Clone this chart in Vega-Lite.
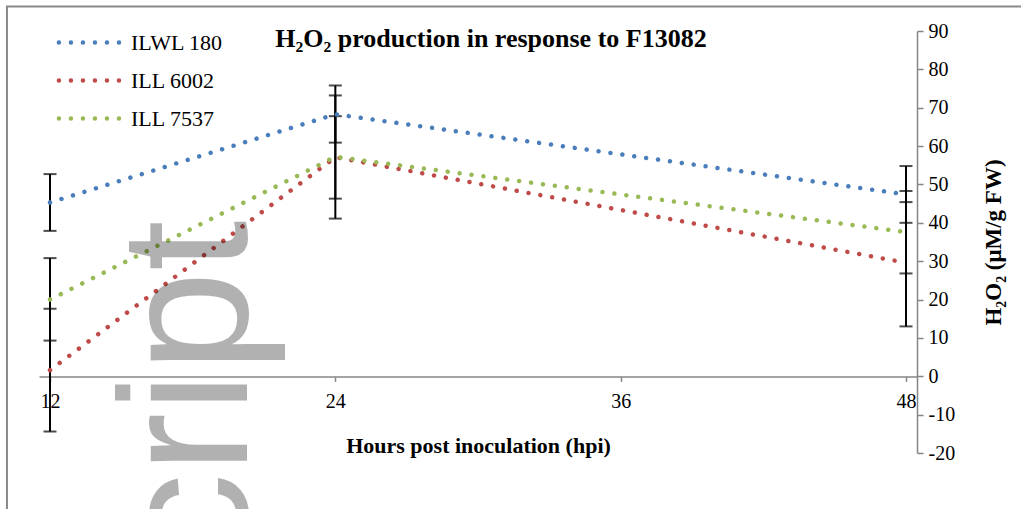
{
  "$schema": "https://vega.github.io/schema/vega-lite/v6.json",
  "width": 878,
  "height": 422,
  "autosize": {"type": "none"},
  "padding": {"left": 39, "top": 31, "right": 104, "bottom": 56},
  "background": "white",
  "config": {
    "view": {"stroke": null},
    "font": "Liberation Serif",
    "axisX": {
      "titleFont": "Liberation Serif", "titleFontSize": 22, "titleFontWeight": "bold", "titleColor": "black", "titlePadding": 24,
      "labelFont": "Liberation Serif", "labelFontSize": 20, "labelColor": "black", "labelPadding": 10, "labelFlush": false,
      "domainColor": "#868686", "domainWidth": 1.5, "tickColor": "#868686", "tickWidth": 1.5, "tickSize": 5, "grid": false
    },
    "axisY": {
      "titleFont": "Liberation Serif", "titleFontSize": 23, "titleFontWeight": "bold", "titleColor": "black", "titlePadding": 51,
      "labelFont": "Liberation Serif", "labelFontSize": 20, "labelColor": "black", "labelPadding": 5,
      "domainColor": "#868686", "domainWidth": 1.5, "tickColor": "#868686", "tickWidth": 1.5, "tickSize": 6, "grid": false
    }
  },
  "title": {
    "text": "H₂O₂ production in response to F13082",
    "font": "Liberation Serif",
    "fontSize": 26,
    "fontWeight": "bold",
    "color": "black",
    "anchor": "middle",
    "dx": 13,
    "offset": -68,
    "baseline": "alphabetic"
  },
  "data": {
    "values": [
      {"hpi": 12, "line": "ILWL 180", "value": 45.3, "lo": 37.9, "hi": 52.7},
      {"hpi": 24, "line": "ILWL 180", "value": 68.3, "lo": 60.9, "hi": 75.8},
      {"hpi": 48, "line": "ILWL 180", "value": 47.4, "lo": 40.0, "hi": 54.8},
      {"hpi": 12, "line": "ILL 6002", "value": 1.6, "lo": -14.4, "hi": 17.6},
      {"hpi": 24, "line": "ILL 6002", "value": 57.1, "lo": 41.1, "hi": 73.2},
      {"hpi": 48, "line": "ILL 6002", "value": 29.6, "lo": 13.0, "hi": 45.4},
      {"hpi": 12, "line": "ILL 7537", "value": 20.0, "lo": 9.3, "hi": 30.8},
      {"hpi": 24, "line": "ILL 7537", "value": 57.2, "lo": 46.3, "hi": 67.8},
      {"hpi": 48, "line": "ILL 7537", "value": 37.6, "lo": 26.8, "hi": 48.3}
    ]
  },
  "layer": [
    {
      "data": {"values": [{}]},
      "mark": {"type": "rect", "fillOpacity": 0, "stroke": "#8a8a8a", "strokeWidth": 2, "clip": false},
      "encoding": {
        "x": {"datum": 10.19, "type": "quantitative", "scale": {"domain": [11.537, 48.463], "nice": false, "zero": false},
          "axis": {"values": [12, 24, 36, 48], "title": "Hours post inoculation (hpi)", "offset": -76.6}},
        "x2": {"datum": 60},
        "y": {"datum": 96.4, "type": "quantitative", "scale": {"domain": [-20, 90], "nice": false, "zero": false},
          "axis": {"orient": "right", "values": [-20, -10, 0, 10, 20, 30, 40, 50, 60, 70, 80, 90], "labelExpr": "'' + datum.value", "title": "H₂O₂ (μM/g FW)", "titleAngle": 270}},
        "y2": {"datum": -60}
      }
    },
    {
      "mark": {"type": "rule", "color": "black", "strokeWidth": 2},
      "encoding": {
        "x": {"field": "hpi", "type": "quantitative", "scale": {"domain": [11.537, 48.463], "nice": false, "zero": false},
          "axis": {"values": [12, 24, 36, 48], "title": "Hours post inoculation (hpi)", "offset": -76.6}},
        "y": {"field": "lo", "type": "quantitative", "scale": {"domain": [-20, 90], "nice": false, "zero": false},
          "axis": {"orient": "right", "values": [-20, -10, 0, 10, 20, 30, 40, 50, 60, 70, 80, 90], "labelExpr": "'' + datum.value", "title": "H₂O₂ (μM/g FW)", "titleAngle": 270}},
        "y2": {"field": "hi"}
      }
    },
    {
      "mark": {"type": "tick", "color": "black", "orient": "horizontal", "size": 13, "thickness": 2},
      "encoding": {
        "x": {"field": "hpi", "type": "quantitative", "scale": {"domain": [11.537, 48.463], "nice": false, "zero": false},
          "axis": {"values": [12, 24, 36, 48], "title": "Hours post inoculation (hpi)", "offset": -76.6}},
        "y": {"field": "lo", "type": "quantitative", "scale": {"domain": [-20, 90], "nice": false, "zero": false},
          "axis": {"orient": "right", "values": [-20, -10, 0, 10, 20, 30, 40, 50, 60, 70, 80, 90], "labelExpr": "'' + datum.value", "title": "H₂O₂ (μM/g FW)", "titleAngle": 270}}
      }
    },
    {
      "mark": {"type": "tick", "color": "black", "orient": "horizontal", "size": 13, "thickness": 2},
      "encoding": {
        "x": {"field": "hpi", "type": "quantitative", "scale": {"domain": [11.537, 48.463], "nice": false, "zero": false},
          "axis": {"values": [12, 24, 36, 48], "title": "Hours post inoculation (hpi)", "offset": -76.6}},
        "y": {"field": "hi", "type": "quantitative", "scale": {"domain": [-20, 90], "nice": false, "zero": false},
          "axis": {"orient": "right", "values": [-20, -10, 0, 10, 20, 30, 40, 50, 60, 70, 80, 90], "labelExpr": "'' + datum.value", "title": "H₂O₂ (μM/g FW)", "titleAngle": 270}}
      }
    },
    {
      "mark": {"type": "line", "strokeWidth": 4.5, "strokeDash": [0.01, 12], "strokeCap": "round"},
      "encoding": {
        "x": {"field": "hpi", "type": "quantitative", "scale": {"domain": [11.537, 48.463], "nice": false, "zero": false},
          "axis": {"values": [12, 24, 36, 48], "title": "Hours post inoculation (hpi)", "offset": -76.6}},
        "y": {"field": "value", "type": "quantitative", "scale": {"domain": [-20, 90], "nice": false, "zero": false},
          "axis": {"orient": "right", "values": [-20, -10, 0, 10, 20, 30, 40, 50, 60, 70, 80, 90], "labelExpr": "'' + datum.value", "title": "H₂O₂ (μM/g FW)", "titleAngle": 270}},
        "color": {
          "field": "line", "type": "nominal",
          "scale": {"domain": ["ILWL 180", "ILL 6002", "ILL 7537"], "range": ["#4a7ebb", "#be4b48", "#98b954"]},
          "legend": {
            "orient": "none", "legendX": 36, "legendY": -3, "title": null,
            "symbolType": "M-2.55,0H2.55", "symbolSize": 576, "symbolStrokeWidth": 4.5, "symbolDash": [0.01, 12],
            "labelFont": "Liberation Serif", "labelFontSize": 22, "labelColor": "black", "labelOffset": 27,
            "rowPadding": 12, "padding": 0,
            "encode": {"symbols": {"update": {"strokeCap": {"value": "round"}, "fill": {"value": "transparent"}}}}
          }
        }
      }
    },
    {
      "data": {"values": [{}]},
      "mark": {"type": "text", "text": "Manuscript", "font": "Liberation Sans", "fontSize": 182, "angle": 270, "align": "right", "baseline": "alphabetic", "color": "black", "opacity": 0.3},
      "encoding": {
        "x": {"datum": 20.28, "type": "quantitative", "scale": {"domain": [11.537, 48.463], "nice": false, "zero": false},
          "axis": {"values": [12, 24, 36, 48], "title": "Hours post inoculation (hpi)", "offset": -76.6}},
        "y": {"datum": 40.6, "type": "quantitative", "scale": {"domain": [-20, 90], "nice": false, "zero": false},
          "axis": {"orient": "right", "values": [-20, -10, 0, 10, 20, 30, 40, 50, 60, 70, 80, 90], "labelExpr": "'' + datum.value", "title": "H₂O₂ (μM/g FW)", "titleAngle": 270}}
      }
    }
  ]
}
